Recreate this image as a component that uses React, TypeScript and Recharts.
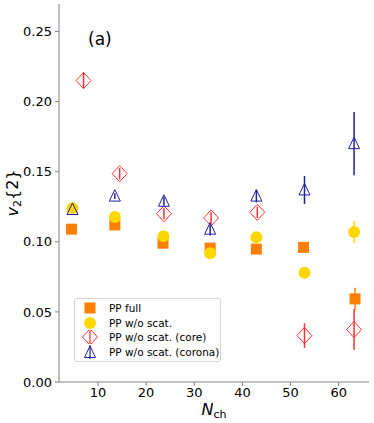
import { ScatterChart, Scatter, XAxis, YAxis, ErrorBar } from 'recharts'

// N_ch positions and v2{2} values
const nFull = [4.5, 13.5, 23.5, 33.3, 42.9, 52.7, 63.4]
const v2Full = [0.109, 0.112, 0.099, 0.0955, 0.0948, 0.096, 0.0593]
const errFull = [0.002, 0.002, 0.002, 0.002, 0.002, 0.003, 0.008]

const nNoScat = [4.7, 13.5, 23.6, 33.3, 42.9, 52.9, 63.2]
const v2NoScat = [0.1239, 0.1176, 0.104, 0.0919, 0.1033, 0.078, 0.107]
const errNoScat = [0.002, 0.002, 0.002, 0.002, 0.002, 0.003, 0.008]

const nCore = [7.0, 14.5, 23.7, 33.5, 43.1, 52.9, 63.2]
const v2Core = [0.215, 0.1486, 0.12, 0.117, 0.121, 0.0331, 0.0374]
const errCore = [0.0057, 0.004, 0.004, 0.004, 0.004, 0.0088, 0.0145]

const nCorona = [4.7, 13.5, 23.7, 33.3, 42.9, 52.9, 63.2]
const v2Corona = [0.123, 0.1326, 0.1289, 0.109, 0.1326, 0.137, 0.17]
const errCorona = [0.002, 0.002, 0.003, 0.0045, 0.0045, 0.01, 0.0226]

const xTicks = [10, 20, 30, 40, 50, 60]
const yTicks = [0, 0.05, 0.1, 0.15, 0.2, 0.25]

const ORANGE = '#ff8000'
const GOLD = '#ffd700'
const RED = '#ff3030'
const BLUE = '#1f1fa0'
const SPINE = '#808080'
const FONT = 'DejaVu Sans, sans-serif'

const toPoints = (xs: number[], ys: number[], es: number[]) =>
  xs.map((x, i) => ({ x, y: ys[i], err: es[i] }))

const Square = ({ cx, cy }: any) => (
  <rect x={cx - 5.5} y={cy - 5.5} width={11} height={11} fill={ORANGE} />
)
const Circle = ({ cx, cy }: any) => <circle cx={cx} cy={cy} r={6} fill={GOLD} />
const Diamond = ({ cx, cy }: any) => (
  <path
    d={`M${cx},${cy - 8} L${cx + 7.5},${cy} L${cx},${cy + 8} L${cx - 7.5},${cy} Z`}
    fill="none"
    stroke={RED}
    strokeWidth={1}
  />
)
const Triangle = ({ cx, cy }: any) => (
  <path
    d={`M${cx},${cy - 6.5} L${cx + 5.5},${cy + 5} L${cx - 5.5},${cy + 5} Z`}
    fill="none"
    stroke={BLUE}
    strokeWidth={1}
  />
)

const legendItems = [
  { label: 'PP full', kind: 'square' },
  { label: 'PP w/o scat.', kind: 'circle' },
  { label: 'PP w/o scat. (core)', kind: 'diamond' },
  { label: 'PP w/o scat. (corona)', kind: 'triangle' },
]

const LegendMarker = ({ kind }: { kind: string }) => (
  <svg width={20} height={14} style={{ display: 'block' }}>
    {kind === 'square' && <Square cx={10} cy={7} />}
    {kind === 'circle' && <Circle cx={10} cy={7} />}
    {kind === 'diamond' && (
      <>
        <line x1={10} y1={0} x2={10} y2={14} stroke={RED} strokeWidth={1.2} />
        <Diamond cx={10} cy={7} />
      </>
    )}
    {kind === 'triangle' && (
      <>
        <line x1={10} y1={0} x2={10} y2={14} stroke={BLUE} strokeWidth={1.2} />
        <Triangle cx={10} cy={7.5} />
      </>
    )}
  </svg>
)

const YLabel = ({ viewBox }: any) => {
  const cy = viewBox.y + viewBox.height / 2
  return (
    <text
      x={0}
      y={0}
      transform={`translate(18, ${cy}) rotate(-90)`}
      textAnchor="middle"
      fontFamily={FONT}
      fontSize={16}
      fill="#000"
    >
      <tspan fontStyle="italic">v</tspan>
      <tspan fontSize={11} dy={3}>2</tspan>
      <tspan dy={-3}>{'{2}'}</tspan>
    </text>
  )
}

const XLabel = ({ viewBox }: any) => {
  const cx = viewBox.x + viewBox.width / 2
  return (
    <text x={cx} y={415} textAnchor="middle" fontFamily={FONT} fontSize={16} fill="#000">
      <tspan fontStyle="italic">N</tspan>
      <tspan fontSize={11} dy={3}>ch</tspan>
    </text>
  )
}

export default function App() {
  const tick = { fill: '#000', fontSize: 13, fontFamily: FONT }
  return (
    <div style={{ position: 'absolute', left: 0, top: 0, width: 374, height: 423, background: '#fff' }}>
      <ScatterChart width={374} height={423} margin={{ top: 4, right: 5, left: 0, bottom: 0 }}>
        <XAxis
          type="number"
          dataKey="x"
          domain={[1.9, 66.3]}
          ticks={xTicks}
          allowDataOverflow
          height={41}
          tick={tick}
          tickSize={4}
          tickMargin={2}
          stroke={SPINE}
          label={<XLabel />}
        />
        <XAxis
          xAxisId="top"
          orientation="top"
          type="number"
          domain={[1.9, 66.3]}
          height={0}
          tick={false}
          tickLine={false}
          stroke={SPINE}
        />
        <YAxis
          type="number"
          dataKey="y"
          domain={[0, 0.2696]}
          ticks={yTicks}
          allowDataOverflow
          width={59}
          tick={tick}
          tickSize={4}
          tickMargin={3}
          tickFormatter={(v: number) => v.toFixed(2)}
          stroke={SPINE}
          label={<YLabel />}
        />
        <YAxis
          yAxisId="right"
          orientation="right"
          type="number"
          domain={[0, 0.2696]}
          width={0}
          tick={false}
          tickLine={false}
          stroke={SPINE}
        />
        <Scatter data={toPoints(nFull, v2Full, errFull)} shape={<Square />} isAnimationActive={false}>
          <ErrorBar dataKey="err" direction="y" width={0} stroke={ORANGE} strokeWidth={1.5} />
        </Scatter>
        <Scatter data={toPoints(nNoScat, v2NoScat, errNoScat)} shape={<Circle />} isAnimationActive={false}>
          <ErrorBar dataKey="err" direction="y" width={0} stroke={GOLD} strokeWidth={1.5} />
        </Scatter>
        <Scatter data={toPoints(nCore, v2Core, errCore)} shape={<Diamond />} isAnimationActive={false}>
          <ErrorBar dataKey="err" direction="y" width={0} stroke={RED} strokeWidth={1.5} />
        </Scatter>
        <Scatter data={toPoints(nCorona, v2Corona, errCorona)} shape={<Triangle />} isAnimationActive={false}>
          <ErrorBar dataKey="err" direction="y" width={0} stroke={BLUE} strokeWidth={1.5} />
        </Scatter>
      </ScatterChart>
      <div
        style={{
          position: 'absolute',
          left: 88,
          top: 29,
          fontFamily: FONT,
          fontSize: 17,
          color: '#000',
        }}
      >
        (a)
      </div>
      <div
        style={{
          position: 'absolute',
          left: 74,
          top: 298,
          width: 147,
          height: 64,
          boxSizing: 'border-box',
          border: '1px solid #d6d6d6',
          borderRadius: 3,
          background: 'rgba(255,255,255,0.8)',
          padding: '2px 0 0 5px',
          fontFamily: FONT,
          fontSize: 10.5,
          color: '#000',
        }}
      >
        {legendItems.map((it) => (
          <div key={it.label} style={{ display: 'flex', alignItems: 'center', height: 14.5 }}>
            <LegendMarker kind={it.kind} />
            <span style={{ marginLeft: 9, whiteSpace: 'nowrap' }}>{it.label}</span>
          </div>
        ))}
      </div>
    </div>
  )
}
